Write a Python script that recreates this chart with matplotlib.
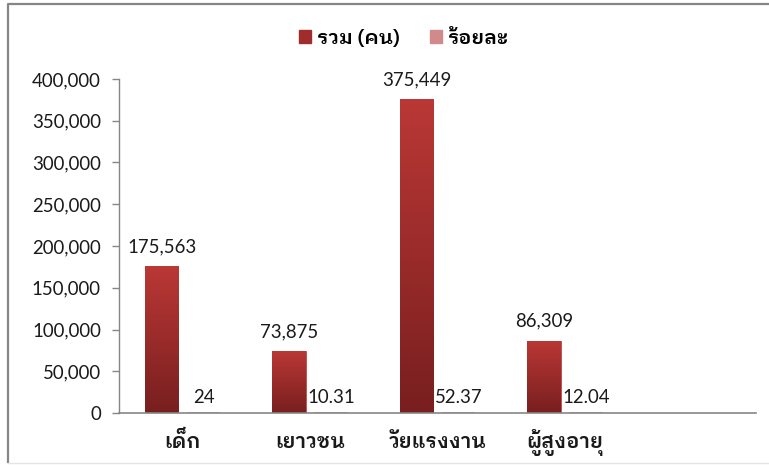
# Thai age-group population bar chart (count and percent)
import numpy as np
import matplotlib
matplotlib.use("Agg")
import matplotlib.pyplot as plt
from matplotlib.patches import Rectangle
from matplotlib.lines import Line2D

categories = ['เด็ก', 'เยาวชน', 'วัยแรงงาน', 'ผู้สูงอายุ', '']
total = [175563, 73875, 375449, 86309]
percent = [24, 10.31, 52.37, 12.04]
total_labels = ['175,563', '73,875', '375,449', '86,309']
percent_labels = ['24', '10.31', '52.37', '12.04']
yticks = [0, 50000, 100000, 150000, 200000, 250000, 300000, 350000, 400000]

thai = ['IBM Plex Sans Thai Looped', 'Noto Sans Thai Looped', 'Lato']
num = ['Lato', 'DejaVu Sans']
plt.rcParams['font.family'] = num

fig = plt.figure(figsize=(7.69, 4.66), dpi=100)
ax = fig.add_axes([0.1547, 0.1137, 0.8287, 0.7168])

x = np.arange(len(total))
w = 0.262
off = 0.165
bars1 = ax.bar(x - off, total, w, color='#9e2a2a', edgecolor='#c04848', linewidth=0.6,
               label='รวม (คน)', zorder=2)
bars2 = ax.bar(x + off, percent, w, color='#d49494', edgecolor='#d49494', linewidth=1.2,
               label='ร้อยละ', zorder=2)

# vertical gradient on the main bars
grad = np.linspace(0, 1, 256).reshape(-1, 1)
top = np.array([0.73, 0.22, 0.21])
bot = np.array([0.47, 0.12, 0.12])
img = bot + (top - bot) * grad[:, :, None] * np.ones((1, 1, 3))
for b in bars1:
    bx, by, bw, bh = b.get_x(), b.get_y(), b.get_width(), b.get_height()
    im = ax.imshow(img, extent=[bx, bx + bw, by, by + bh], origin='lower',
                   aspect='auto', zorder=2.5)
    im.set_clip_path(b)

for b, t in zip(bars1, total_labels):
    ax.annotate(t, (b.get_x() + b.get_width() / 2, b.get_height()), xytext=(0, 8),
                textcoords='offset points', ha='center', va='bottom', fontsize=13.4,
                color='#1a1a1a')
for b, t in zip(bars2, percent_labels):
    ax.annotate(t, (b.get_x() + b.get_width() / 2, b.get_height()), xytext=(0, 5),
                textcoords='offset points', ha='center', va='bottom', fontsize=13.4,
                color='#1a1a1a')

ax.set_xlim(-0.5, len(categories) - 0.5)
ax.set_ylim(0, 400000)
ax.set_yticks(yticks)
ax.set_yticklabels([f'{v:,}' for v in yticks], fontsize=13.4, color='#1a1a1a')
ax.set_xticks(range(len(categories)))
ax.set_xticklabels(categories, family=thai, fontsize=14.8, fontweight='semibold', color='#1a1a1a')
for lab in ax.get_xticklabels():
    lab.set_va('baseline')
ax.tick_params(axis='x', length=0, pad=25)
ax.tick_params(axis='y', length=5, width=1, color='#868686', pad=8)
for s in ['top', 'right']:
    ax.spines[s].set_visible(False)
ax.spines['left'].set_color('#868686')
ax.spines['bottom'].set_color('#868686')
ax.spines['left'].set_linewidth(1)
ax.spines['bottom'].set_linewidth(1.2)

h1 = Rectangle((0, 0), 1, 1, color='#a02c2c')
h2 = Rectangle((0, 0), 1, 1, color='#d08a8a')
fig.legend([h1, h2], ['รวม (คน)', 'ร้อยละ'], loc='center', bbox_to_anchor=(0.525, 0.918),
           ncol=2, frameon=False, prop={'family': thai, 'size': 14.5, 'weight': 'semibold'},
           handlelength=0.6, handleheight=0.6, handletextpad=0.3, columnspacing=1.5)

# chart frame: grey top and left, faint bottom
fig.add_artist(Line2D([0.0104, 0.0104, 1.0], [0.0086, 0.9914, 0.9914], transform=fig.transFigure,
                      color='#868686', linewidth=1.6))
fig.add_artist(Line2D([0.0104, 1.0], [0.0075, 0.0075], transform=fig.transFigure,
                      color='#e4e4e4', linewidth=1))

fig.savefig('out.png', dpi=100)
